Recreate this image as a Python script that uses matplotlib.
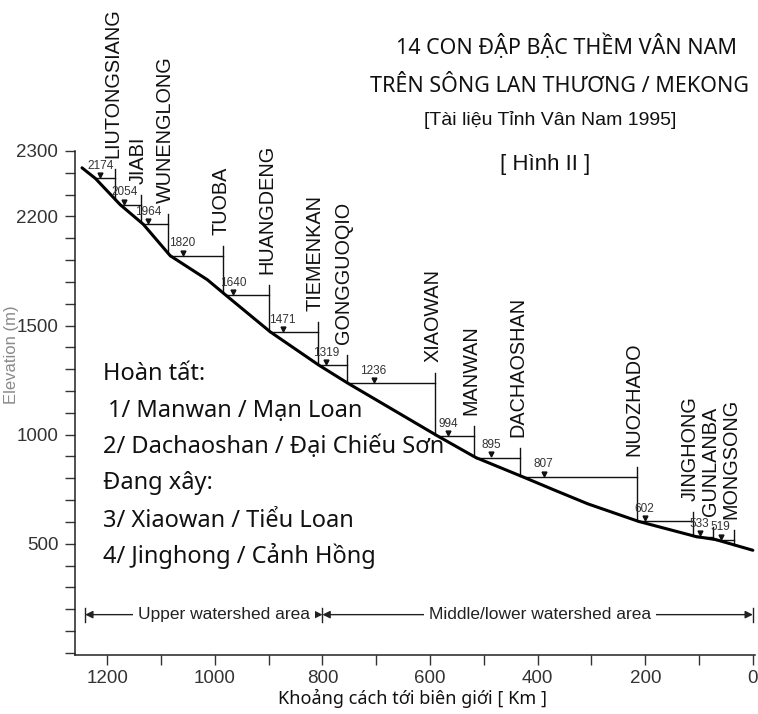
import numpy as np
import matplotlib
matplotlib.use('Agg')
import matplotlib.pyplot as plt
from matplotlib.ticker import FixedLocator, FuncFormatter
from matplotlib.transforms import ScaledTranslation

# ---------------- data ----------------
dam_names = ['LIUTONGSIANG', 'JIABI', 'WUNENGLONG', 'TUOBA', 'HUANGDENG',
             'TIEMENKAN', 'GONGGUOQIO', 'XIAOWAN', 'MANWAN', 'DACHAOSHAN',
             'NUOZHADO', 'JINGHONG', 'GUNLANBA', 'MONGSONG']
dam_km = [1185, 1137, 1087, 984, 899, 809, 755, 590, 519, 432, 216, 112, 74, 35]
dam_level = [2174, 2054, 1964, 1820, 1640, 1471, 1319, 1236, 994, 895, 807, 602, 533, 519]
marker_km = [1213, 1168, 1124, 1060, 966, 874, 793, 705, 566, 487, 389, 201, 99, 60]

profile_km = [1247, 1222, 1176, 1133, 1083, 1014, 980, 897, 807, 753, 586,
              515, 428, 370, 307, 212, 106, 69, 0]
profile_elev = [2223, 2174, 2054, 1964, 1820, 1710, 1640, 1471, 1319, 1236, 994,
                895, 807, 747, 683, 602, 533, 519, 470]

ytick_label_pos = [500, 1000, 1500, 2000, 2300]
ytick_labels = ['500', '1000', '1500', '2200', '2300']
xtick_label_pos = [1200, 1000, 800, 600, 400, 200, 0]

watershed_bounds = [1241, 800, 0]
watershed_names = ['Upper watershed area', 'Middle/lower watershed area']
watershed_text_km = [983, 396]
watershed_elev = 175

title_lines = ['14 CON ĐẬP BẬC THỀM VÂN NAM', 'TRÊN SÔNG LAN THƯƠNG / MEKONG']
source_line = '[Tài liệu Tỉnh Vân Nam 1995]'
figure_tag = '[ Hình II ]'
note_lines = ['Hoàn tất:', '1/ Manwan / Mạn Loan', '2/ Dachaoshan / Đại Chiếu Sơn',
              'Đang xây:', '3/ Xiaowan / Tiểu Loan', '4/ Jinghong / Cảnh Hồng']
xlabel = 'Khoảng cách tới biên giới [ Km ]'
ylabel = 'Elevation (m)'

# ---------------- style ----------------
NARROW = ['Liberation Sans', 'DejaVu Sans']
HAND = ['Noto Sans', 'DejaVu Sans']
W, H = 758, 714

fig = plt.figure(figsize=(W / 100, H / 100), dpi=100)
fig.patch.set_facecolor('white')
ax = fig.add_axes([75 / W, 1 - 655 / H, 680 / W, 504 / H])
ax.set_xlim(1260, -4)
ax.set_ylim(-10, 2300)

for s in ['top', 'right']:
    ax.spines[s].set_visible(False)
for s in ['left', 'bottom']:
    ax.spines[s].set_linewidth(1.1)
    ax.spines[s].set_color('#222')

# ticks
ax.yaxis.set_major_locator(FixedLocator(np.arange(0, 2301, 100)))
ylab_map = dict(zip(ytick_label_pos, ytick_labels))
ax.yaxis.set_major_formatter(FuncFormatter(lambda v, p: ylab_map.get(int(round(v)), '')))
ax.xaxis.set_major_locator(FixedLocator(np.arange(0, 1201, 100)))
ax.xaxis.set_major_formatter(FuncFormatter(lambda v, p: str(int(round(v))) if int(round(v)) in xtick_label_pos else ''))
ax.tick_params(axis='both', direction='out', length=7, width=1.0, color='#333',
               labelcolor='#333', labelsize=13.5)
ax.tick_params(axis='x', pad=4)
ax.tick_params(axis='y', pad=5)
for lab in ax.get_xticklabels() + ax.get_yticklabels():
    lab.set_family(NARROW)

# river profile
ax.plot(profile_km, profile_elev, color='black', lw=2.2, solid_capstyle='round', zorder=3)

# profile helpers (ascending km)
pk = np.array(profile_km[::-1], dtype=float)
pe = np.array(profile_elev[::-1], dtype=float)

tri_trans = ax.transData + ScaledTranslation(0, 2.2 / 72, fig.dpi_scale_trans)
for name, km, lvl, mk in zip(dam_names, dam_km, dam_level, marker_km):
    base = np.interp(km, pk, pe)
    left_km = np.interp(lvl, pe, pk)
    ax.plot([left_km, km], [lvl, lvl], color='#111', lw=1.0, zorder=2)
    ax.plot([km, km], [base, lvl + 45], color='#111', lw=1.0, zorder=2)
    ax.plot([mk], [lvl], marker='v', ms=3.5, color='#111', transform=tri_trans,
            zorder=4, clip_on=False)
    ax.annotate(str(lvl), (mk, lvl), xytext=(0, 4.5), textcoords='offset points',
                ha='center', va='bottom', fontsize=8.5, color='#333', family=NARROW)
    ax.annotate(name, (km, lvl), xytext=(-2, 15), textcoords='offset points',
                rotation=90, ha='center', va='bottom', fontsize=14.3, color='#111',
                family=NARROW, annotation_clip=False)

# watershed annotation
for b in watershed_bounds:
    ax.plot([b, b], [watershed_elev - 32, watershed_elev + 32], color='#222', lw=1.0)
for (a, b), nm, tk in zip(zip(watershed_bounds[:-1], watershed_bounds[1:]),
                          watershed_names, watershed_text_km):
    for end in (a, b):
        ax.annotate('', xy=(end, watershed_elev), xytext=(tk, watershed_elev),
                    arrowprops=dict(arrowstyle='-|>', lw=1.0, color='#222',
                                    mutation_scale=11, shrinkA=0, shrinkB=0))
    ax.text(tk, watershed_elev, nm, ha='center', va='center', fontsize=12.5,
            color='#222', family=NARROW, zorder=5,
            bbox=dict(boxstyle='square,pad=0.3', fc='white', ec='none'))

# axis labels
ax.set_ylabel(ylabel, color='#8a8a8a', fontsize=12, family=NARROW)
ax.yaxis.set_label_coords(-0.083, 0.595)
fig.text(413 / W, 1 - 704 / H, xlabel, ha='center', va='baseline',
         fontsize=13, family=HAND, color='#111')

# titles
fig.text(566 / W, 1 - 54 / H, title_lines[0], ha='center', va='baseline',
         fontsize=15.5, family=HAND, color='#111')
fig.text(559 / W, 1 - 92 / H, title_lines[1], ha='center', va='baseline',
         fontsize=15.5, family=HAND, color='#111')
fig.text(550 / W, 1 - 125 / H, source_line, ha='center', va='baseline',
         fontsize=14, family=NARROW, color='#111')
fig.text(545 / W, 1 - 170 / H, figure_tag, ha='center', va='baseline',
         fontsize=16, family=NARROW, color='#111')

# notes
note_x = [103, 108, 103, 103, 103, 103]
note_base = [380, 417, 453, 489, 527, 563]
for t, nx, ny in zip(note_lines, note_x, note_base):
    fig.text(nx / W, 1 - ny / H, t, ha='left', va='baseline', fontsize=17,
             family=HAND, color='#111')

fig.savefig('out.png', dpi=100, facecolor='white')
